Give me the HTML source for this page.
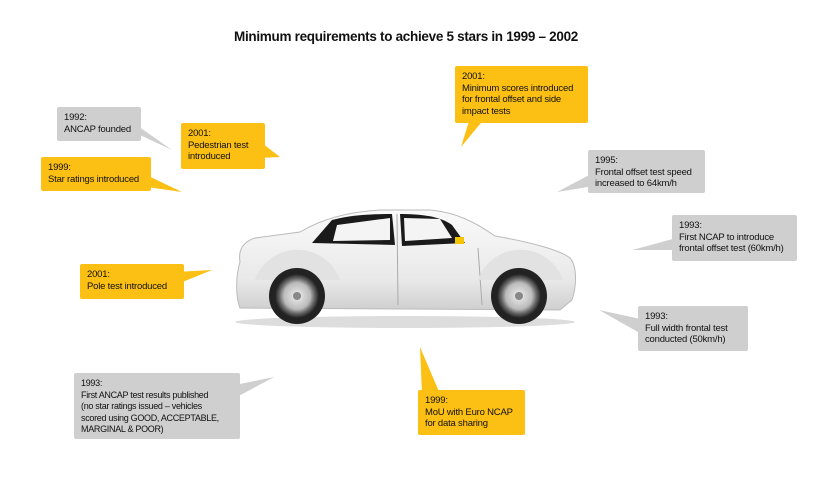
<!DOCTYPE html>
<html><head><meta charset="utf-8"><style>
body{margin:0;width:830px;height:480px;background:#fff;position:relative;overflow:hidden;font-family:"Liberation Sans",sans-serif;}
.b{position:absolute;font-size:9.5px;line-height:11.5px;color:#111;padding:5px 7px;box-sizing:border-box;border-radius:2px;letter-spacing:-0.2px;white-space:nowrap}
.y{background:#fcbf14}.g{background:#cfcfcf}
svg{position:absolute;left:0;top:0}
.t{position:absolute;left:0;width:812px;top:29px;text-align:center;font-size:13.5px;font-weight:bold;color:#111;letter-spacing:-0.3px}
</style></head><body>
<div class="t">Minimum requirements to achieve 5 stars in 1999 – 2002</div>
<svg width="830" height="480">
<g fill="#cfcfcf">
<polygon points="135,124 172,150 140,135"/>
<polygon points="595,172 557,192 600,185"/>
<polygon points="680,237 632,250 680,250"/>
<polygon points="645,320 599,310 645,336"/>
<polygon points="235,385 274,377 235,398"/>
</g>
<g fill="#fcbf14">
<polygon points="258,140 280,157 258,158"/>
<polygon points="140,172 182,192 140,186"/>
<polygon points="470,118 461,147 485,118"/>
<polygon points="175,272 212,270 175,285"/>
<polygon points="422,394 420,347 440,394"/>
</g>
<defs><radialGradient id="w" cx="50%" cy="50%" r="50%"><stop offset="0" stop-color="#eee"/><stop offset=".6" stop-color="#bbb"/><stop offset=".8" stop-color="#666"/><stop offset="1" stop-color="#222"/></radialGradient>
<linearGradient id="bd" x1="0" y1="0" x2="0" y2="1"><stop offset="0" stop-color="#fafafa"/><stop offset=".7" stop-color="#e9e9e9"/><stop offset="1" stop-color="#cfcfcf"/></linearGradient></defs>
<ellipse cx="405" cy="322" rx="170" ry="6" fill="#ddd"/>
<path d="M240,262 C238,250 243,242 255,238 L300,232 C320,220 345,212 380,210 L430,210 C455,212 475,222 495,236 C530,242 560,250 570,258 C577,266 577,285 572,300 L560,310 L240,308 C235,295 236,275 240,262Z" fill="url(#bd)" stroke="#bbb" stroke-width="1"/>
<path d="M312,243 L332,220 C350,215 370,214 392,214 L395,245Z" fill="#1a1a1a"/>
<path d="M400,214 C420,214 440,216 452,225 L465,243 L402,246Z" fill="#1a1a1a"/>
<path d="M337,225 L390,218 L390,240 L333,241Z" fill="#f4f4f4"/>
<path d="M404,218 L440,219 L452,238 L405,241Z" fill="#f4f4f4"/>
<rect x="455" y="237" width="9" height="7" fill="#f2c500"/>
<line x1="397" y1="214" x2="398" y2="305" stroke="#aaa"/>
<path d="M478,248 L482,305" stroke="#aaa" fill="none"/>
<path d="M255,280 A45,45 0 0 1 340,280" fill="#e2e2e2"/>
<path d="M478,280 A45,45 0 0 1 563,280" fill="#e2e2e2"/>
<circle cx="297" cy="296" r="28" fill="#222"/>
<circle cx="297" cy="296" r="22" fill="url(#w)"/>
<circle cx="519" cy="296" r="28" fill="#222"/>
<circle cx="519" cy="296" r="22" fill="url(#w)"/>
<circle cx="297" cy="296" r="4" fill="#888"/><circle cx="519" cy="296" r="4" fill="#888"/>
</svg>
<div class="b g" style="left:57px;top:107px;width:84px;height:34px">1992:<br>ANCAP founded</div>
<div class="b y" style="left:181px;top:123px;width:84px;height:46px">2001:<br>Pedestrian test<br>introduced</div>
<div class="b y" style="left:41px;top:157px;width:110px;height:34px">1999:<br>Star ratings introduced</div>
<div class="b y" style="left:455px;top:66px;width:133px;height:57px">2001:<br>Minimum scores introduced<br>for frontal offset and side<br>impact tests</div>
<div class="b g" style="left:588px;top:150px;width:117px;height:43px">1995:<br>Frontal offset test speed<br>increased to 64km/h</div>
<div class="b g" style="left:672px;top:215px;width:125px;height:46px">1993:<br>First NCAP to introduce<br>frontal offset test (60km/h)</div>
<div class="b y" style="left:80px;top:264px;width:104px;height:35px">2001:<br>Pole test introduced</div>
<div class="b g" style="left:638px;top:306px;width:110px;height:45px">1993:<br>Full width frontal test<br>conducted (50km/h)</div>
<div class="b g" style="left:74px;top:373px;width:166px;height:66px;font-size:9px;letter-spacing:-0.3px">1993:<br>First ANCAP test results published<br>(no star ratings issued – vehicles<br>scored using GOOD, ACCEPTABLE,<br>MARGINAL &amp; POOR)</div>
<div class="b y" style="left:418px;top:390px;width:107px;height:45px">1999:<br>MoU with Euro NCAP<br>for data sharing</div>
</body></html>
